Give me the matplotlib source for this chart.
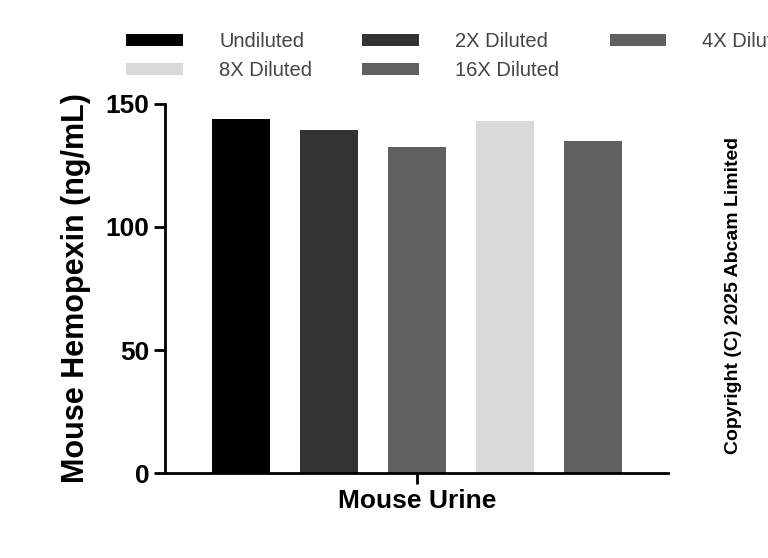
import matplotlib
matplotlib.use("Agg")
import matplotlib.pyplot as plt

labels = ["Undiluted", "2X Diluted", "4X Diluted", "8X Diluted", "16X Diluted"]
values = [143.9, 139.4, 132.5, 143.1, 135.0]
colors = ["#000000", "#333333", "#606060", "#d9d9d9", "#606060"]

plt.rcParams['font.family'] = ['Liberation Sans', 'DejaVu Sans']
fig = plt.figure(figsize=(7.68, 5.58), dpi=100)
ax = fig.add_axes([0.215, 0.152, 0.655, 0.662])

handles = []
for i, (lab, v, c) in enumerate(zip(labels, values, colors)):
    handles.append(ax.bar(i, v, width=0.66, color=c, label=lab))

ax.set_xlim(-0.864, 4.85)
ax.set_ylim(0, 150)
ax.set_yticks([0, 50, 100, 150])
ax.set_xticks([2])
ax.set_xticklabels(["Mouse Urine"], fontsize=19, fontweight="bold")
ax.tick_params(axis="y", labelsize=19, width=2, length=8)
ax.tick_params(axis="x", width=2, length=8)
for t in ax.get_yticklabels():
    t.set_fontweight("bold")
ax.spines["top"].set_visible(False)
ax.spines["right"].set_visible(False)
ax.spines["left"].set_linewidth(2)
ax.spines["bottom"].set_linewidth(2)
ax.set_ylabel("Mouse Hemopexin (ng/mL)", fontsize=22, fontweight="bold", labelpad=10)

# row-major order for 3-column legend
order = [0, 3, 1, 4, 2]
fig.legend([handles[k] for k in order], [labels[k] for k in order],
           loc="upper center", bbox_to_anchor=(0.6, 0.975), ncol=3, frameon=False,
           fontsize=14.5, handlelength=2.8, handleheight=0.6, columnspacing=2.5,
           handletextpad=1.8, labelcolor="#444444")

fig.text(0.955, 0.47, "Copyright (C) 2025 Abcam Limited", rotation=90, fontsize=14,
         fontweight="bold", ha="center", va="center")

fig.savefig("out.png", dpi=100)
